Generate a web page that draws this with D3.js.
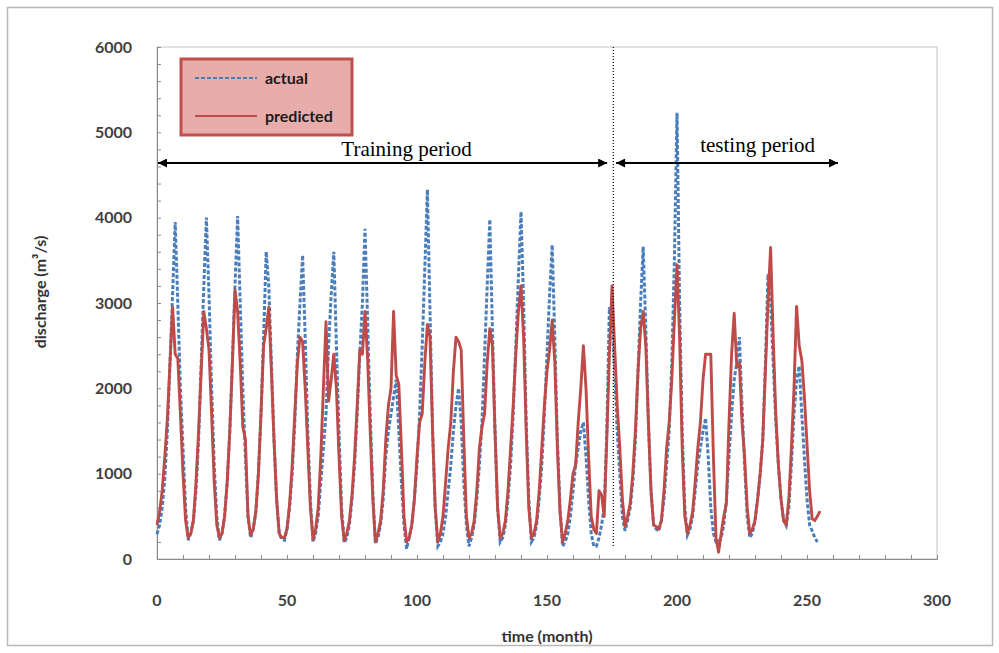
<!DOCTYPE html>
<html>
<head>
<meta charset="utf-8">
<script src="https://cdn.jsdelivr.net/npm/d3@7"></script>
<style>
  html, body { margin: 0; padding: 0; background: #fff; }
  svg { display: block; }
  .tick-lbl { font-family: Lato, "Open Sans", sans-serif; font-weight: bold; font-size: 16px; fill: #404040; }
  .axis-title { font-family: Lato, "Open Sans", sans-serif; font-weight: bold; font-size: 16px; fill: #333; }
  .legend-lbl { font-family: Lato, "Open Sans", sans-serif; font-weight: bold; font-size: 16px; fill: #1a1a1a; }
  .note { font-family: "Liberation Serif", "Times New Roman", serif; font-size: 21px; fill: #000; }
</style>
</head>
<body>
<svg id="chart" width="999" height="653"></svg>
<script>
// ============================================================
// DATA (monthly discharge, m3/s)
// ============================================================
const actual = [
  290, 400, 600, 950, 1500, 2300, 3100, 3950, 3000, 2000, 1300, 600,
  220, 300, 450, 800, 1400, 2300, 3200, 4000, 3100, 2000, 1100, 500,
  220, 300, 500, 900, 1500, 2300, 3200, 4020, 3000, 2000, 1200, 500,
  250, 350, 550, 1000, 1700, 2600, 3600, 3200, 2300, 1400, 700, 300,
  230, 220, 350, 600, 1000, 1600, 2400, 3000, 3560, 2600, 1500, 700,
  200, 300, 500, 900, 1300, 1700, 2500, 3100, 3600, 2500, 1500, 600,
  190, 250, 400, 700, 1100, 1700, 2400, 3000, 3870, 2800, 1700, 800,
  180, 250, 400, 700, 1200, 1500, 1700, 1900, 2100, 1500, 900, 400,
  120, 250, 400, 700, 1100, 1700, 2500, 3400, 4330, 2900, 1500, 600,
  150, 200, 300, 500, 800, 1100, 1500, 1800, 2000, 1600, 900, 400,
  150, 250, 400, 700, 1100, 1600, 2400, 3200, 3980, 2700, 1500, 600,
  200, 250, 400, 700, 1100, 1700, 2500, 3300, 4070, 3000, 1600, 700,
  200, 250, 400, 700, 1100, 1700, 2400, 3100, 3680, 2600, 1400, 600,
  150, 200, 300, 500, 800, 1100, 1300, 1500, 1600, 1200, 700, 300,
  150, 150, 250, 400, 600, 1500, 2950, 2800, 2200, 1500, 1000, 500,
  330, 450, 600, 900, 1400, 2200, 3000, 3660, 2700, 1600, 800, 400,
  350, 330, 450, 700, 1100, 1500, 2300, 3500, 5230, 3000, 1500, 600,
  280, 350, 500, 800, 1100, 1300, 1500, 1650, 1200, 600, 300, 200,
  200, 250, 400, 700, 1200, 1700, 2100, 2300, 2600, 1800, 1100, 500,
  250, 300, 450, 700, 1000, 1400, 2300, 3340, 3000, 2300, 1600, 1100,
  700, 450, 390, 600, 1100, 1700, 2100, 2260, 1700, 1180, 700, 400,
  330, 250, 200
];

const predicted = [
  400, 550, 800, 1200, 1650, 2300, 2950, 2400, 2350, 1700, 1000, 450,
  250, 300, 450, 900, 1500, 2200, 2900, 2700, 2450, 1700, 900, 400,
  250, 300, 500, 900, 1500, 2300, 3150, 2900, 2300, 1550, 1400, 500,
  280, 350, 550, 1000, 1700, 2500, 2700, 2950, 2200, 1400, 700, 300,
  250, 250, 350, 650, 1100, 1700, 2300, 2600, 2550, 2000, 1300, 600,
  230, 350, 600, 1200, 2000, 2780, 1850, 2100, 2400, 2000, 1200, 500,
  220, 300, 450, 750, 1200, 1800, 2450, 2400, 2900, 2350, 1500, 700,
  200, 300, 450, 800, 1400, 1800, 2000, 2900, 2150, 2050, 1300, 500,
  200, 250, 400, 700, 1200, 1600, 1700, 2300, 2750, 2600, 1500, 600,
  200, 300, 500, 900, 1300, 1600, 2200, 2600, 2550, 2450, 1400, 500,
  250, 300, 450, 800, 1300, 1550, 1700, 2300, 2700, 2500, 1500, 600,
  250, 300, 450, 800, 1300, 1800, 2400, 2900, 3200, 2600, 1500, 600,
  250, 300, 450, 800, 1300, 1800, 2200, 2450, 2800, 2300, 1300, 550,
  200, 300, 450, 700, 1000, 1100, 1600, 2000, 2500, 2000, 1200, 500,
  350, 300, 800, 750, 500, 1400, 2400, 3200, 2500, 1800, 1300, 700,
  380, 500, 650, 1000, 1500, 2200, 2700, 2900, 2500, 1600, 800, 400,
  380, 350, 450, 800, 1300, 1600, 2100, 2800, 3450, 2600, 1300, 500,
  300, 400, 550, 900, 1300, 1600, 2100, 2400, 2400, 2400, 1200, 250,
  80, 300, 500, 650, 1600, 2400, 2880, 2250, 2300, 1600, 1200, 600,
  300, 350, 450, 700, 1000, 1400, 2200, 3000, 3650, 2600, 1700, 1100,
  700, 450, 400, 700, 1300, 2000, 2960, 2500, 2330, 1900, 1350, 800,
  470, 450, 500, 560
];

const xTicks = [0, 50, 100, 150, 200, 250, 300];
const yTicks = [0, 1000, 2000, 3000, 4000, 5000, 6000];
const seriesNames = ['actual', 'predicted'];
const splitMonth = 175.5;
const periods = [
  { label: 'Training period', from: 0, to: 173.5, textAt: 96, textY: 156 },
  { label: 'testing period', from: 176.2, to: 262.3, textAt: 231, textY: 152 }
];

// ============================================================
// SETUP
// ============================================================
const svg = d3.select('#chart');
const x = d3.scaleLinear().domain([0, 300]).range([157, 937]);
const y = d3.scaleLinear().domain([0, 6000]).range([559, 47]);
const BLUE = '#4a7ebb', RED = '#be4b48';

svg.append('rect').attr('x', 7.5).attr('y', 7.5).attr('width', 985).attr('height', 638)
  .attr('fill', '#fff').attr('stroke', '#b8b8b8').attr('stroke-width', 1.5);

// plot area border
svg.append('rect')
  .attr('x', x(0)).attr('y', y(6000))
  .attr('width', x(300) - x(0)).attr('height', y(0) - y(6000))
  .attr('fill', '#fff').attr('stroke', '#c4c4c4');

// ============================================================
// AXES
// ============================================================
const yAxis = svg.append('g').attr('transform', `translate(${x(0)},0)`)
  .call(d3.axisRight(y).tickValues(d3.range(0, 6001, 200)).tickSize(4).tickFormat(''));
const xAxis = svg.append('g').attr('transform', `translate(0,${y(0)})`)
  .call(d3.axisTop(x).tickValues(d3.range(0, 301, 10)).tickSize(4).tickFormat(''));
[xAxis, yAxis].forEach(g => {
  g.select('.domain').attr('stroke', '#8c8c8c');
  g.selectAll('.tick line').attr('stroke', '#8c8c8c');
});

svg.append('g').selectAll('text').data(yTicks).join('text')
  .attr('class', 'tick-lbl')
  .attr('x', 132).attr('y', d => y(d)).attr('dy', '0.35em')
  .attr('text-anchor', 'end').text(d => d);

svg.append('g').selectAll('text').data(xTicks).join('text')
  .attr('class', 'tick-lbl')
  .attr('x', d => x(d)).attr('y', 606)
  .attr('text-anchor', 'middle').text(d => d);

svg.append('text').attr('class', 'axis-title')
  .attr('x', (x(0) + x(300)) / 2).attr('y', 642)
  .attr('text-anchor', 'middle').text('time (month)');

svg.append('text').attr('class', 'axis-title')
  .attr('transform', 'translate(46,292) rotate(-90)')
  .attr('text-anchor', 'middle')
  .text('discharge (m\u00B3/s)');

// ============================================================
// SERIES
// ============================================================
const line = d3.line().x((d, i) => x(i)).y(d => y(d));

svg.append('path').datum(actual)
  .attr('d', line).attr('fill', 'none')
  .attr('stroke', BLUE).attr('stroke-width', 3)
  .attr('stroke-dasharray', '4,2');

svg.append('path').datum(predicted)
  .attr('d', line).attr('fill', 'none')
  .attr('stroke', RED).attr('stroke-width', 2.9)
  .attr('stroke-linejoin', 'round');

// ============================================================
// PERIOD ANNOTATIONS
// ============================================================
const defs = svg.append('defs');
defs.append('marker').attr('id', 'ah')
  .attr('viewBox', '0 0 10 10').attr('refX', 10).attr('refY', 5)
  .attr('markerWidth', 5).attr('markerHeight', 4.5).attr('orient', 'auto-start-reverse')
  .attr('markerUnits', 'strokeWidth')
  .append('path').attr('d', 'M0,0L10,5L0,10Z').attr('fill', '#000');

svg.append('line')
  .attr('x1', x(splitMonth)).attr('x2', x(splitMonth))
  .attr('y1', y(6000)).attr('y2', y(0) - 11)
  .attr('stroke', '#000').attr('stroke-width', 1.2).attr('stroke-dasharray', '1,2');

periods.forEach(p => {
  svg.append('line')
    .attr('x1', x(p.from) + 1).attr('x2', x(p.to) - 1)
    .attr('y1', 163).attr('y2', 163)
    .attr('stroke', '#000').attr('stroke-width', 2)
    .attr('marker-start', 'url(#ah)').attr('marker-end', 'url(#ah)');
  svg.append('text').attr('class', 'note')
    .attr('x', x(p.textAt)).attr('y', p.textY)
    .attr('text-anchor', 'middle').text(p.label);
});

// ============================================================
// LEGEND
// ============================================================
const lg = svg.append('g').attr('transform', 'translate(181,59)');
lg.append('rect').attr('width', 171).attr('height', 76)
  .attr('fill', '#e8acaa').attr('stroke', '#c0504d').attr('stroke-width', 3);

seriesNames.forEach((name, i) => {
  const ly = 19 + i * 38;
  lg.append('line')
    .attr('x1', 14).attr('x2', 76).attr('y1', ly).attr('y2', ly)
    .attr('stroke', i === 0 ? BLUE : RED).attr('stroke-width', 2.2)
    .attr('stroke-dasharray', i === 0 ? '4,2' : null);
  lg.append('text').attr('class', 'legend-lbl')
    .attr('x', 84).attr('y', ly).attr('dy', '0.35em').text(name);
});
</script>
</body>
</html>
